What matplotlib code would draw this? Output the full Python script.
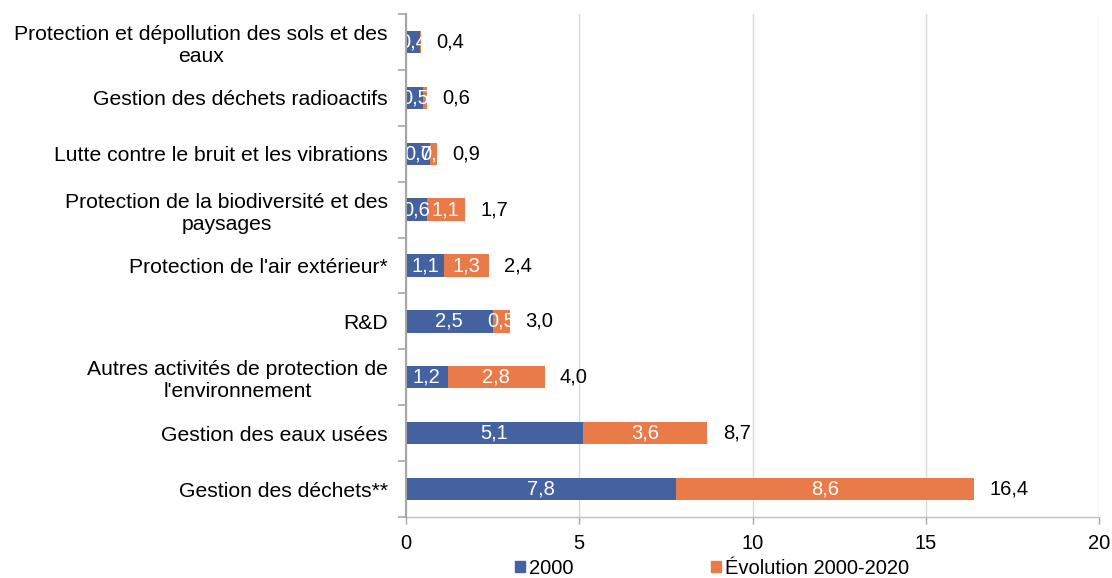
import matplotlib
matplotlib.use("Agg")
import matplotlib.pyplot as plt
from matplotlib.patches import Patch

plt.rcParams['font.family'] = ['Liberation Sans', 'DejaVu Sans']

categories = [
    "Protection et dépollution des sols et des\neaux",
    "Gestion des déchets radioactifs",
    "Lutte contre le bruit et les vibrations",
    "Protection de la biodiversité et des\npaysages",
    "Protection de l'air extérieur*",
    "R&D",
    "Autres activités de protection de\nl'environnement",
    "Gestion des eaux usées",
    "Gestion des déchets**",
]
val_2000 = [0.4, 0.5, 0.7, 0.6, 1.1, 2.5, 1.2, 5.1, 7.8]
val_evol = [0.04, 0.1, 0.2, 1.1, 1.3, 0.5, 2.8, 3.6, 8.6]
labels_2000 = ["0,4", "0,5", "0,7", "0,6", "1,1", "2,5", "1,2", "5,1", "7,8"]
labels_evol = ["", "", "0,2", "1,1", "1,3", "0,5", "2,8", "3,6", "8,6"]
labels_total = ["0,4", "0,6", "0,9", "1,7", "2,4", "3,0", "4,0", "8,7", "16,4"]
series_names = ["2000", "Évolution 2000-2020"]
xticks = [0, 5, 10, 15, 20]

blue = "#4461A0"
orange = "#E97B4A"
FS_CAT = 15.25
FS_NUM = 14.5

fig = plt.figure(figsize=(11.12, 5.78), dpi=100)
ax = fig.add_axes([406/1112, 1 - 517/578, (1099-406)/1112, (517-14)/578])

n = len(categories)
ypos = list(range(n - 1, -1, -1))
bh = 0.4
b1 = ax.barh(ypos, val_2000, height=bh, color=blue, zorder=3)
b2 = ax.barh(ypos, val_evol, left=val_2000, height=bh, color=orange, zorder=3)

for bars, labs in ((b1, labels_2000), (b2, labels_evol)):
    for rect, lab in zip(bars, labs):
        if not lab:
            continue
        cx = rect.get_x() + rect.get_width() / 2
        cy = rect.get_y() + rect.get_height() / 2
        ax.text(cx, cy, lab, ha="center", va="center", color="white",
                fontsize=FS_NUM, zorder=4, clip_on=True)

for y, a, b, lab in zip(ypos, val_2000, val_evol, labels_total):
    ax.annotate(lab, xy=(a + b, y), xytext=(11, 0), textcoords="offset points",
                ha="left", va="center", fontsize=FS_NUM, color="black")

ax.set_xlim(0, 20)
ax.set_ylim(-0.5, n - 0.5)
ax.set_xticks(xticks)
ax.set_xticklabels([str(x) for x in xticks], fontsize=FS_NUM)
ax.set_yticks(ypos)
ax.set_yticklabels(categories, fontsize=FS_CAT, multialignment="center")
ax.set_yticks([i - 0.5 for i in range(n + 1)], minor=True)
ax.tick_params(axis="y", which="major", length=0, pad=13)
ax.tick_params(axis="y", which="minor", length=6, color="#A6A6A6", width=1.2)
ax.tick_params(axis="x", length=5, color="#A6A6A6", width=1, pad=7)
ax.grid(axis="x", color="#D9D9D9", linewidth=1, zorder=0)

for s in ["top", "right"]:
    ax.spines[s].set_visible(False)
ax.spines["left"].set_color("#A6A6A6")
ax.spines["left"].set_linewidth(1.5)
ax.spines["left"].set_zorder(5)
ax.spines["bottom"].set_color("#BFBFBF")
ax.spines["bottom"].set_linewidth(1)

handles = [Patch(color=blue, label=series_names[0]),
           Patch(color=orange, label=series_names[1])]
fig.legend(handles=handles, loc="center", bbox_to_anchor=(712/1112, 1 - 568/578),
           ncol=2, frameon=False, fontsize=FS_NUM, handlelength=0.5,
           handleheight=0.5, handletextpad=0.2, columnspacing=6.8,
           borderpad=0)

fig.savefig("out.png", dpi=100)
